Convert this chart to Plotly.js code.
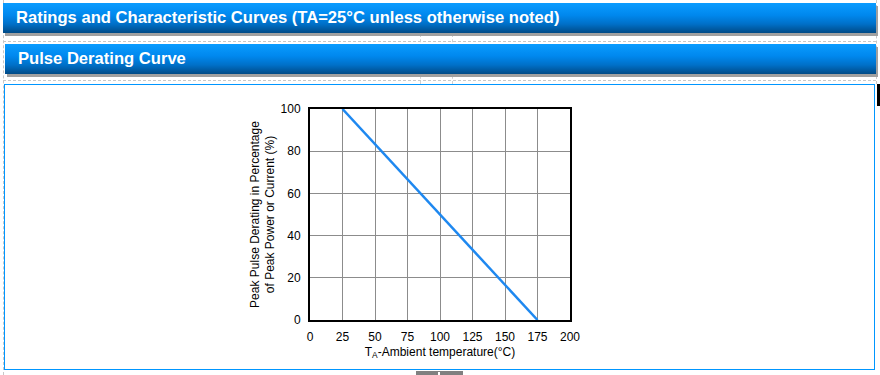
<!DOCTYPE html>
<html>
<head>
<meta charset="utf-8">
<script src="https://cdn.plot.ly/plotly-3.0.1.min.js"></script>
<style>
  html, body { margin:0; padding:0; width:880px; height:375px; overflow:hidden; background:#fff; font-family: "Liberation Sans", Arial, sans-serif; }
  .bar { position:absolute; color:#fff; font-weight:bold; font-size:16.6px; line-height:30px;
         background: linear-gradient(to bottom, #0a9cff 0%, #0088ee 40%, #0070c8 70%, #004a86 100%);
         box-shadow: 2px 3px 0 #a0a0a0; }
  .dash { position:absolute; }
  #chart { position:absolute; left:0; top:0; width:880px; height:375px; }
</style>
</head>
<body>
<div class="dash" style="left:3px;top:0;width:0;height:375px;border-left:1px dashed #c8c8c8;"></div>
<div class="dash" style="left:876px;top:0;width:0;height:84px;border-left:1px dashed #c8c8c8;"></div>
<div class="dash" style="left:3px;top:41px;width:873px;height:0;border-top:1px dashed #c8c8c8;"></div>
<div class="dash" style="left:3px;top:80px;width:873px;height:0;border-top:1px dashed #c8c8c8;"></div>
<div class="dash" style="left:420px;top:34px;width:0;height:50px;border-left:1px dashed #d0d0d0;"></div>
<div class="dash" style="left:452px;top:34px;width:0;height:50px;border-left:1px dashed #d0d0d0;"></div>
<div class="bar" style="left:3px;top:3px;width:873px;height:30px;"><span style="padding-left:13px;">Ratings and Characteristic Curves (TA=25°C unless otherwise noted)</span></div>
<div class="bar" style="left:5px;top:44px;width:871px;height:30px;"><span style="padding-left:13px;">Pulse Derating Curve</span></div>
<div style="position:absolute;left:4px;top:84px;width:869px;height:284px;border:1px solid #0096ff;"></div>
<div style="position:absolute;left:877px;top:84px;width:3px;height:22px;background:#000;"></div>
<div style="position:absolute;left:416px;top:371px;width:47px;height:4px;background:#808080;"></div>
<div style="position:absolute;left:438px;top:372px;width:2px;height:3px;background:#fff;"></div>
<div id="chart"></div>
<script>
var temperature = [25, 175];
var derating = [100, 0];
var xTicks = [0, 25, 50, 75, 100, 125, 150, 175, 200];
var yTicks = [0, 20, 40, 60, 80, 100];

var trace = {
  x: temperature, y: derating, mode: 'lines', type: 'scatter',
  line: { color: '#1e88f0', width: 2.5 }, hoverinfo: 'skip'
};
var layout = {
  width: 880, height: 375,
  margin: { l: 310, r: 310, t: 109, b: 55 },
  paper_bgcolor: 'rgba(0,0,0,0)', plot_bgcolor: '#fff',
  showlegend: false,
  font: { family: 'Liberation Sans, Arial, sans-serif', size: 12, color: '#000' },
  xaxis: {
    range: [0, 200], tickvals: xTicks, ticktext: xTicks.map(String),
    showgrid: true, gridcolor: '#8c8c8c', gridwidth: 1,
    showline: true, linecolor: '#000', linewidth: 2, mirror: true,
    zeroline: false, ticks: '', fixedrange: true, ticklabelstandoff: 5,
    tickfont: { size: 12, color: '#000' },
    title: { text: 'T<sub>A</sub>-Ambient temperature(°C)', font: { size: 12, color: '#000' }, standoff: 4 }
  },
  yaxis: {
    range: [0, 100], tickvals: yTicks, ticktext: yTicks.map(String),
    showgrid: true, gridcolor: '#8c8c8c', gridwidth: 1,
    showline: true, linecolor: '#000', linewidth: 2, mirror: true,
    zeroline: false, ticks: '', fixedrange: true, ticklabelstandoff: 5,
    tickfont: { size: 12, color: '#000' },
    title: { text: 'Peak Pulse Derating in Percentage<br>of Peak Power or Current (%)', font: { size: 12, color: '#000' }, standoff: 3 }
  }
};
Plotly.newPlot('chart', [trace], layout, { displayModeBar: false, staticPlot: true });
</script>
</body>
</html>
